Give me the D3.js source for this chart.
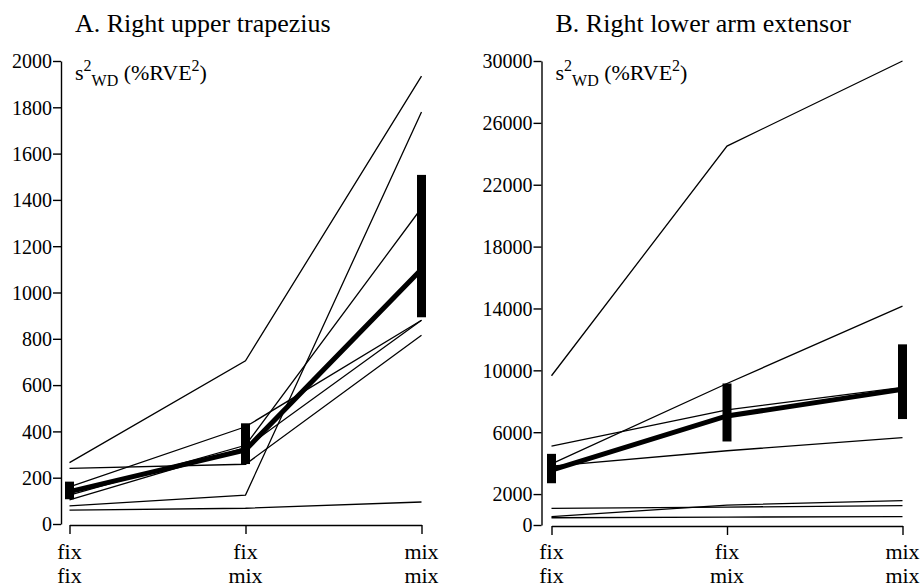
<!DOCTYPE html>
<html>
<head>
<meta charset="utf-8">
<script src="https://cdn.jsdelivr.net/npm/d3@7"></script>
<style>
  html, body { margin: 0; padding: 0; background: #fff; }
  svg text { font-family: "Liberation Serif", "Times New Roman", serif !important; fill: #000; }
</style>
</head>
<body>
<div id="d3Container"></div>
<script>
  // categories (two-line labels)
  const CAT_TOP = ['fix', 'fix', 'mix']
  const CAT_BOTTOM = ['fix', 'mix', 'mix']

  // A. right upper trapezius, one row per subject
  const TRAP_SUBJECTS = [
    [265, 705, 1935],
    [240, 258, 815],
    [160, 420, 880],
    [125, 340, 1365],
    [104, 330, 880],
    [78, 125, 1780],
    [60, 68, 95]
  ]
  const TRAP_MEAN = [140, 320, 1100]
  const TRAP_LOW = [107, 259, 893]
  const TRAP_HIGH = [183, 435, 1508]
  const TRAP_TICKS = [0, 200, 400, 600, 800, 1000, 1200, 1400, 1600, 1800, 2000]

  // B. right lower arm extensor
  const EXT_SUBJECTS = [
    [9650, 24500, 30000],
    [3950, 9150, 14150],
    [5100, 7450, 8900],
    [3800, 4800, 5650],
    [1080, 1160, 1250],
    [540, 1290, 1570],
    [470, 510, 540]
  ]
  const EXT_MEAN = [3550, 7050, 8770]
  const EXT_LOW = [2700, 5400, 6850]
  const EXT_HIGH = [4600, 9150, 11680]
  const EXT_TICKS = [0, 2000, 6000, 10000, 14000, 18000, 22000, 26000, 30000]

  const width = 923
  const height = 587
  const SERIF = '"Liberation Serif", "Times New Roman", serif'
  const TICK_FONT = 20
  const CAT_FONT = 22
  const TITLE_FONT = 26
  const LABEL_FONT = 22
  const SCRIPT_FONT = 16

  const svg = d3.select('#d3Container')
    .append('svg')
    .attr('width', width)
    .attr('height', height)

  drawPanel({
    title: 'A. Right upper trapezius',
    axisX: 61, x0: 69.5, x1: 421.5, yTop: 61, yBottom: 524,
    max: 2000, ticks: TRAP_TICKS,
    subjects: TRAP_SUBJECTS, mean: TRAP_MEAN, low: TRAP_LOW, high: TRAP_HIGH
  })

  drawPanel({
    title: 'B. Right lower arm extensor',
    axisX: 541.5, x0: 551.5, x1: 902.5, yTop: 61, yBottom: 525,
    max: 30000, ticks: EXT_TICKS,
    subjects: EXT_SUBJECTS, mean: EXT_MEAN, low: EXT_LOW, high: EXT_HIGH
  })

  function drawPanel (p) {
    const xScale = d3.scalePoint().domain(d3.range(CAT_TOP.length)).range([p.x0, p.x1])
    const yScale = d3.scaleLinear().domain([0, p.max]).range([p.yBottom, p.yTop])

    const g = svg.append('g')

    // title
    g.append('text')
      .attr('x', p.axisX + 14).attr('y', 32)
      .attr('font-size', TITLE_FONT)
      .text(p.title)

    // y axis
    const yAxis = g.append('g')
      .attr('transform', `translate(${p.axisX}, 0)`)
      .call(d3.axisLeft(yScale).tickValues(p.ticks).tickSize(8).tickPadding(1).tickSizeOuter(0).tickFormat(d3.format('d')))
    yAxis.attr('font-family', SERIF)
    yAxis.select('.domain').attr('stroke-width', 1.4)
    yAxis.selectAll('.tick line').attr('stroke-width', 1.4)
    yAxis.selectAll('.tick text')
      .style('font-family', SERIF)
      .attr('font-size', TICK_FONT)
      .attr('dy', '0.34em')

    // x axis
    const xAxis = g.append('g')
      .attr('transform', `translate(0, ${p.yBottom + 1})`)
      .call(d3.axisBottom(xScale).tickSize(9).tickSizeOuter(0).tickFormat(''))
    xAxis.select('.domain').attr('stroke-width', 1.4)
    xAxis.selectAll('.tick line').attr('stroke-width', 1.4)

    g.selectAll('text.cat')
      .data(CAT_TOP.map((d, i) => [d, CAT_BOTTOM[i]]))
      .enter()
      .append('text')
      .classed('cat', true)
      .attr('font-size', CAT_FONT)
      .attr('text-anchor', 'middle')
      .call(sel => {
        sel.append('tspan').attr('x', (d, i) => xScale(i)).attr('y', 559).text(d => d[0])
        sel.append('tspan').attr('x', (d, i) => xScale(i)).attr('y', 583).text(d => d[1])
      })

    // y label s²WD (%RVE²)
    const lab = g.append('text')
      .attr('x', p.axisX + 14).attr('y', 80)
      .attr('font-size', LABEL_FONT)
    lab.append('tspan').text('s')
    lab.append('tspan').attr('font-size', SCRIPT_FONT).attr('dy', -9).text('2')
    lab.append('tspan').attr('font-size', SCRIPT_FONT).attr('dy', 15).text('WD')
    lab.append('tspan').attr('dy', -6).text(' (%RVE')
    lab.append('tspan').attr('font-size', SCRIPT_FONT).attr('dy', -9).text('2')
    lab.append('tspan').attr('dy', 9).text(')')

    const line = d3.line().x((d, i) => xScale(i)).y(d => yScale(d))

    // individual subjects
    g.selectAll('path.subject')
      .data(p.subjects)
      .enter()
      .append('path')
      .classed('subject', true)
      .attr('d', line)
      .attr('fill', 'none').attr('stroke', '#000').attr('stroke-width', 1.3)

    // mean
    g.append('path')
      .attr('d', line(p.mean))
      .attr('fill', 'none').attr('stroke', '#000').attr('stroke-width', 5)

    // error bars
    g.selectAll('rect.err')
      .data(p.low)
      .enter()
      .append('rect')
      .classed('err', true)
      .attr('x', (d, i) => xScale(i) - 4.5)
      .attr('width', 9)
      .attr('y', (d, i) => yScale(p.high[i]))
      .attr('height', (d, i) => yScale(d) - yScale(p.high[i]))
      .attr('fill', '#000')
  }
</script>
</body>
</html>
